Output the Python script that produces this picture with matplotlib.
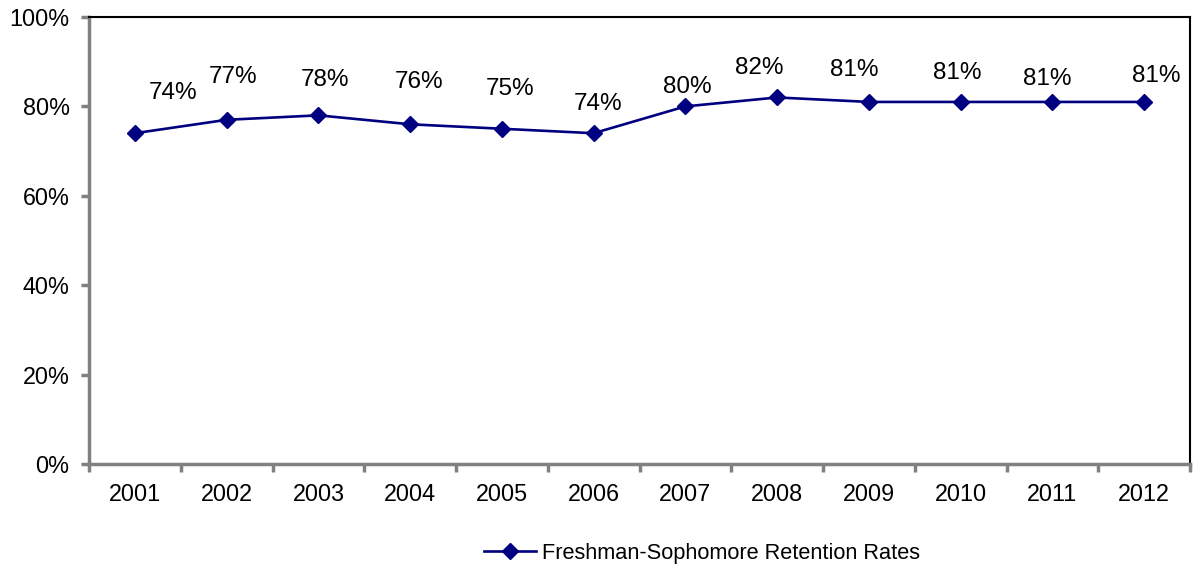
import matplotlib
matplotlib.use("Agg")
import matplotlib.pyplot as plt
from matplotlib.ticker import FixedLocator, PercentFormatter

years = ["2001", "2002", "2003", "2004", "2005", "2006",
         "2007", "2008", "2009", "2010", "2011", "2012"]
retention = [74, 77, 78, 76, 75, 74, 80, 82, 81, 81, 81, 81]
series_name = "Freshman-Sophomore Retention Rates"

# label offsets (pixels, from the point to label centre) - styling only
label_dx = [38, 6, 7, 9, 8, 4, 2, -18, -15, -3, -5, 12]
label_dy = [40, 43, 35, 42, 40, 29, 19, 29, 32, 29, 23, 26]

plt.rcParams['font.family'] = ['Liberation Sans', 'DejaVu Sans']

fig = plt.figure(figsize=(11.93, 5.69), dpi=100)
ax = fig.add_axes([89/1193, 1-464/569, (1190-89)/1193, (464-17)/569])

x = list(range(len(years)))
line, = ax.plot(x, retention, color='#000080', lw=1.9, marker='D', ms=8,
                markerfacecolor='#000080', markeredgecolor='#000080',
                label=series_name, clip_on=False)

for i, v in enumerate(retention):
    ax.annotate(f"{v}%", (i, v), xytext=(label_dx[i]*0.72, label_dy[i]*0.72),
                textcoords='offset points', ha='center', va='center',
                fontsize=17.5, color='black')

ax.set_xlim(-0.5, len(years) - 0.5)
ax.set_ylim(0, 100)
ax.yaxis.set_major_locator(FixedLocator([0, 20, 40, 60, 80, 100]))
ax.yaxis.set_major_formatter(PercentFormatter(decimals=0))
ax.set_xticks(x)
ax.set_xticklabels(years)
ax.xaxis.set_minor_locator(FixedLocator([i - 0.5 for i in range(len(years) + 1)]))
ax.tick_params(axis='x', which='major', length=0, pad=14, labelsize=16.8)
ax.tick_params(axis='x', which='minor', length=6, width=2.5, color='#808080', direction='out')
ax.tick_params(axis='y', length=6, width=2.5, color='#808080', direction='out', pad=8, labelsize=16.8)

for s in ['left', 'bottom']:
    ax.spines[s].set_color('#808080')
    ax.spines[s].set_linewidth(2.5)
for s in ['top', 'right']:
    ax.spines[s].set_color('black')
    ax.spines[s].set_linewidth(1.5)

fig.legend(handles=[line], loc='center', bbox_to_anchor=(702/1193, 1-553/569),
           frameon=False, fontsize=15.7, handlelength=2.4, handletextpad=0.25)

fig.savefig("out.png", dpi=100)
